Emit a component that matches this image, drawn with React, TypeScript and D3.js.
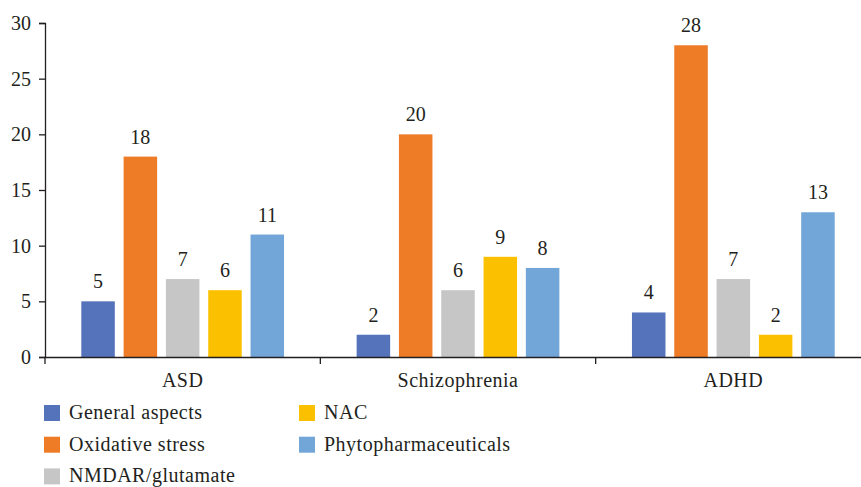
import * as d3 from 'd3';
import { useEffect, useRef } from 'react';

const WIDTH = 861;
const HEIGHT = 487;

const categories = ['ASD', 'Schizophrenia', 'ADHD'];
const seriesNames = ['General aspects', 'Oxidative stress', 'NMDAR/glutamate', 'NAC', 'Phytopharmaceuticals'];
const seriesColors = ['#5573bb', '#ee7b26', '#c5c6c5', '#fbc100', '#72a6d8'];
const generalAspects = [5, 2, 4];
const oxidativeStress = [18, 20, 28];
const nmdarGlutamate = [7, 6, 7];
const nac = [6, 9, 2];
const phyto = [11, 8, 13];
const yTicks = [0, 5, 10, 15, 20, 25, 30];

const seriesValues = [generalAspects, oxidativeStress, nmdarGlutamate, nac, phyto];

const FONT = '"Liberation Serif", "DejaVu Serif", serif';
const FS = 20;
const LS = 0.5;
const TEXT = '#231f20';

const App = () => {
    const svgRef = useRef<SVGSVGElement>(null);

    useEffect(() => {
        const svg = d3.select(svgRef.current);
        svg.selectAll('*').remove();

        const x0 = d3.scaleBand().domain(categories).range([45, 871]);
        const x1 = d3.scaleBand()
            .domain(seriesNames)
            .range([0, x0.bandwidth()])
            .paddingInner(0.208)
            .paddingOuter(0.858);
        const y = d3.scaleLinear().domain([0, 30]).range([357, 23]);

        // bars
        const groups = svg.append('g')
            .selectAll('g')
            .data(categories)
            .join('g')
            .attr('transform', (c) => `translate(${x0(c)},0)`);

        seriesNames.forEach((name, si) => {
            groups.append('rect')
                .attr('x', x1(name))
                .attr('width', x1.bandwidth())
                .attr('y', (_c, ci) => y(seriesValues[si][ci]))
                .attr('height', (_c, ci) => y(0) - y(seriesValues[si][ci]))
                .attr('fill', seriesColors[si]);

            groups.append('text')
                .attr('x', x1(name) + x1.bandwidth() / 2)
                .attr('y', (_c, ci) => y(seriesValues[si][ci]) - 13)
                .attr('text-anchor', 'middle')
                .attr('font-family', FONT)
                .attr('font-size', FS)
                .attr('fill', TEXT)
                .text((_c, ci) => seriesValues[si][ci]);
        });

        // y axis
        const gy = svg.append('g')
            .attr('transform', 'translate(45,0)')
            .call(d3.axisLeft(y).tickValues(yTicks).tickSize(6).tickPadding(8));
        gy.select('.domain').attr('stroke', '#231f20').attr('stroke-width', 1.3);
        gy.selectAll('.tick line').attr('stroke', '#231f20').attr('stroke-width', 1.3);
        gy.selectAll('.tick text')
            .attr('font-family', FONT)
            .attr('font-size', FS)
            .attr('fill', TEXT);

        // x axis
        const gx = svg.append('g')
            .attr('transform', `translate(0,${y(0)})`)
            .call(d3.axisBottom(x0).tickSize(0).tickPadding(15.5));
        gx.select('.domain').attr('stroke', '#231f20').attr('stroke-width', 1.3);
        gx.selectAll('.tick text')
            .attr('font-family', FONT)
            .attr('font-size', FS)
            .attr('letter-spacing', LS)
            .attr('fill', TEXT);
        const bounds = [45, ...categories.map((c) => x0(c) + x0.bandwidth())];
        gx.selectAll('.sep')
            .data(bounds)
            .join('line')
            .attr('class', 'sep')
            .attr('x1', (d) => d)
            .attr('x2', (d) => d)
            .attr('y1', 0)
            .attr('y2', 7)
            .attr('stroke', '#231f20')
            .attr('stroke-width', 1.3);

        // legend
        const legendPos = [
            { col: 0, row: 0 }, { col: 0, row: 1 }, { col: 0, row: 2 },
            { col: 1, row: 0 }, { col: 1, row: 1 },
        ];
        const legend = svg.append('g')
            .selectAll('g')
            .data(seriesNames)
            .join('g')
            .attr('transform', (_d, i) => `translate(${44 + legendPos[i].col * 255},${405 + legendPos[i].row * 31.7})`);
        legend.append('rect')
            .attr('width', 16)
            .attr('height', 16)
            .attr('fill', (_d, i) => seriesColors[i]);
        legend.append('text')
            .attr('x', 25)
            .attr('y', 14)
            .attr('font-family', FONT)
            .attr('font-size', FS)
            .attr('letter-spacing', LS)
            .attr('fill', TEXT)
            .text((d) => d);
    }, []);

    return (
        <svg
            ref={svgRef}
            width={WIDTH}
            height={HEIGHT}
            style={{ position: 'absolute', left: 0, top: 0, background: '#fff' }}
        />
    );
};

export default App;
